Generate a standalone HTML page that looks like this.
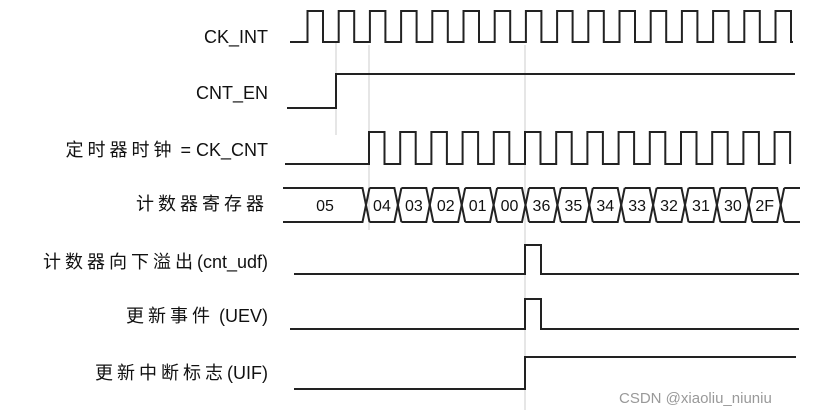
<!DOCTYPE html>
<html><head><meta charset="utf-8"><style>
html,body{margin:0;padding:0;background:#fff;width:826px;height:414px;overflow:hidden}
svg{display:block}
text{font-family:"Liberation Sans","Noto Sans CJK SC",sans-serif;fill:#111}
.l{font-size:18px;text-anchor:end}
.c{font-size:16px;text-anchor:middle}
</style></head><body>
<svg width="826" height="414" viewBox="0 0 826 414" xmlns="http://www.w3.org/2000/svg">
<g stroke="#ccc" stroke-width="1">
<line x1="336" y1="42" x2="336" y2="135"/>
<line x1="369" y1="45" x2="369" y2="230"/>
<line x1="525" y1="45" x2="525" y2="410"/>
</g>
<g fill="none" stroke="#222" stroke-width="2" id="w"></g>
<text class="l" x="268" y="43">CK_INT</text>
<text class="l" x="268" y="99">CNT_EN</text>
<text class="l" x="268" y="156"><tspan letter-spacing="4">定时器时钟</tspan> = CK_CNT</text>
<text class="l" x="268" y="210" letter-spacing="4">计数器寄存器</text>
<text class="l" x="268" y="268"><tspan letter-spacing="4">计数器向下溢出</tspan>(cnt_udf)</text>
<text class="l" x="268" y="322"><tspan letter-spacing="4">更新事件</tspan> (UEV)</text>
<text class="l" x="268" y="379"><tspan letter-spacing="4">更新中断标志</tspan>(UIF)</text>
<text x="619" y="403" style="font-size:15px;fill:#999">CSDN @xiaoliu_niuniu</text>
<g id="t"></g>
</svg>
<script>
var w=document.getElementById('w'),tg=document.getElementById('t'),NS="http://www.w3.org/2000/svg";
function p(d){var e=document.createElementNS(NS,'path');e.setAttribute('d',d);w.appendChild(e);}
var d="M290 42";for(var k=0;k<16;k++){var r=307.5+31.2*k;d+=" L"+r+" 42 L"+r+" 11 L"+(r+15.5)+" 11 L"+(r+15.5)+" 42";}d+=" L793 42";p(d);
p("M287 108 L336 108 L336 74 L795 74");
d="M285 164";for(k=0;k<14;k++){var r=369+31.2*k;if(r>792)break;d+=" L"+r+" 164 L"+r+" 132 L"+Math.min(r+15.5,792)+" 132 L"+Math.min(r+15.5,792)+" 164";}p(d);
var T=188,B=222,h=3.5,s=31.9,x0=366;
p("M283 "+T+" L"+(x0-h)+" "+T+" L"+(x0+h)+" "+B);
p("M283 "+B+" L"+(x0-h)+" "+B+" L"+(x0+h)+" "+T);
var vals=["04","03","02","01","00","36","35","34","33","32","31","30","2F"];
for(k=0;k<13;k++){var a=x0+s*k,b=a+s;
 p("M"+(a+h)+" "+T+" L"+(b-h)+" "+T+" L"+(b+h)+" "+B);
 p("M"+(a+h)+" "+B+" L"+(b-h)+" "+B+" L"+(b+h)+" "+T);
 var t=document.createElementNS(NS,'text');t.setAttribute('class','c');t.setAttribute('x',(a+b)/2);t.setAttribute('y',211);t.textContent=vals[k];tg.appendChild(t);}
var e=x0+s*13;p("M"+(e+h)+" "+T+" L800 "+T);p("M"+(e+h)+" "+B+" L800 "+B);
var t=document.createElementNS(NS,'text');t.setAttribute('class','c');t.setAttribute('x',325);t.setAttribute('y',211);t.textContent="05";tg.appendChild(t);
p("M294 274 L525 274 L525 245 L541 245 L541 274 L799 274");
p("M290 329 L525 329 L525 299 L541 299 L541 329 L799 329");
p("M294 389 L525 389 L525 357 L796 357");
</script>
</body></html>
